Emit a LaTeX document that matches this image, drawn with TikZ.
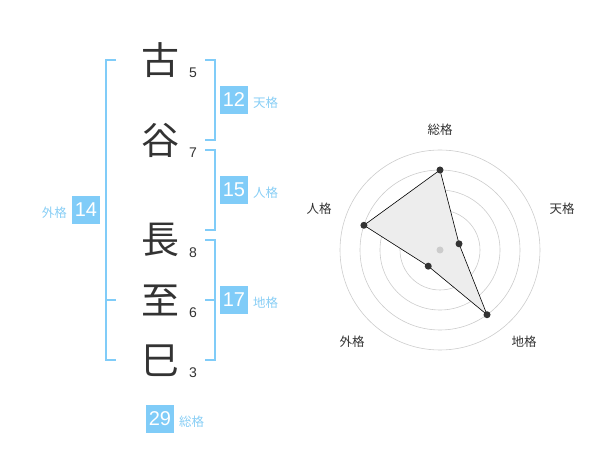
\documentclass[tikz,border=0pt]{standalone}
\usepackage{fontspec}
\setmainfont{Liberation Sans}
\newfontfamily\cjk{Noto Sans CJK JP}
\definecolor{kblue}{HTML}{80CCF8}
\definecolor{klabel}{HTML}{88CEF5}
\definecolor{ktext}{HTML}{333333}
\tikzset{
 kanji/.style={font=\cjk\fontsize{38}{38}\selectfont, text=ktext, inner sep=0pt},
 strokes/.style={font=\fontsize{14}{14}\selectfont, text=ktext, inner sep=0pt},
 numbox/.style={fill=kblue, text=white, minimum width=28pt, minimum height=28pt, inner sep=0pt, font=\fontsize{20}{20}\selectfont},
 gelabel/.style={font=\cjk\fontsize{12.5}{12.5}\selectfont, text=klabel, inner sep=0pt},
 bracket/.style={draw=kblue, line width=1.5pt},
 ring/.style={draw=black!20, line width=0.6pt},
 vdot/.style={circle, fill=ktext, minimum size=7pt, inner sep=0pt},
 axlabel/.style={font=\cjk\fontsize{12.5}{12.5}\selectfont, text=ktext, inner sep=0pt},
}
\begin{document}
\begin{tikzpicture}[x=1pt,y=-1pt]
\useasboundingbox (0,0) rectangle (600,470);
% kanji
\node[kanji] (k1) at (160,60) {古};
\node[kanji] (k2) at (160,140) {谷};
\node[kanji] (k3) at (160,240) {長};
\node[kanji] (k4) at (160,300) {至};
\node[kanji] (k5) at (160,361) {巳};
% stroke counts
\node[strokes] (s1) at (193,73) {5};
\node[strokes] (s2) at (193,153) {7};
\node[strokes] (s3) at (193,253) {8};
\node[strokes] (s4) at (193,313) {6};
\node[strokes] (s5) at (193,373) {3};
% brackets
\draw[bracket] (116,60) -- (106,60) -- (106,360) -- (116,360);
\draw[bracket] (106,300) -- (116,300);
\draw[bracket] (205,60) -- (215,60) -- (215,140) -- (205,140);
\draw[bracket] (205,150) -- (215,150) -- (215,230) -- (205,230);
\draw[bracket] (205,240) -- (215,240) -- (215,360) -- (205,360);
\draw[bracket] (205,300) -- (215,300);
% boxes
\node[numbox] (ten) at (234,100) {12};
\node[gelabel, anchor=west] (tenl) at (253,103) {天格};
\node[numbox] (jin) at (234,190) {15};
\node[gelabel, anchor=west] (jinl) at (253,193) {人格};
\node[numbox] (chi) at (234,300) {17};
\node[gelabel, anchor=west] (chil) at (253,303) {地格};
\node[numbox] (gai) at (86,210) {14};
\node[gelabel, anchor=east] (gail) at (67,213) {外格};
\node[numbox] (sou) at (160,419) {29};
\node[gelabel, anchor=west] (soul) at (179,422) {総格};
% radar
\begin{scope}[shift={(440,250)}, y=1pt]
\foreach \r in {20,40,60,80,100} \draw[ring] (0,0) circle[radius=\r];
\coordinate (rs) at (90:80);
\coordinate (rt) at (18:20);
\coordinate (rc) at (-54:80);
\coordinate (rg) at (-126:20);
\coordinate (rj) at (162:80);
\filldraw[fill=black!7, draw=black, line width=0.6pt] (rs) -- (rt) -- (rc) -- (rg) -- (rj) -- cycle;
\node[circle, fill=black!20, minimum size=7pt, inner sep=0pt] (rcen) at (0,0) {};
\node[vdot] (ps) at (rs) {};
\node[vdot] (pt) at (rt) {};
\node[vdot] (pc) at (rc) {};
\node[vdot] (pg) at (rg) {};
\node[vdot] (pj) at (rj) {};
\node[axlabel] (ls) at (0,120) {総格};
\node[axlabel] (lt) at (122,41) {天格};
\node[axlabel] (lc) at (84,-92) {地格};
\node[axlabel] (lg) at (-88,-92) {外格};
\node[axlabel] (lj) at (-121,41) {人格};
\end{scope}
\end{tikzpicture}
\end{document}
